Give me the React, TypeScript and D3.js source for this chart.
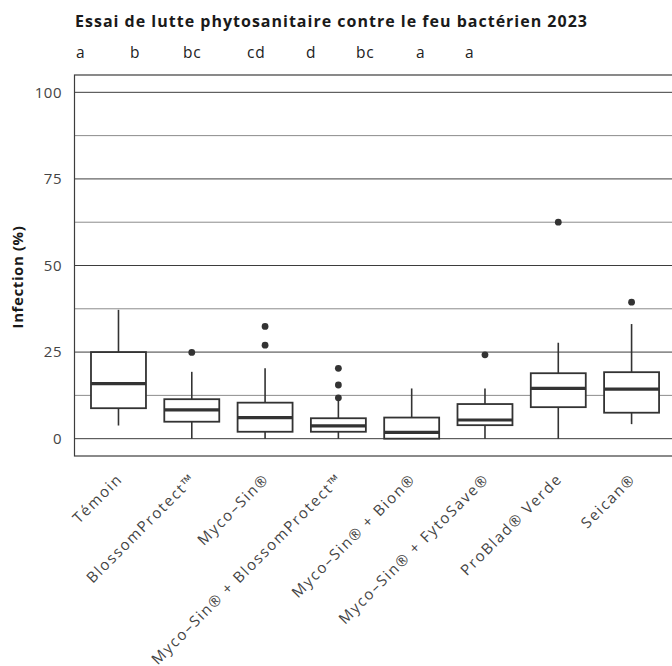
import React from "react";
import * as d3 from "d3";

const title = "Essai de lutte phytosanitaire contre le feu bactérien 2023";
const yLabel = "Infection (%)";
const categories = [
  "Témoin",
  "BlossomProtect™",
  "Myco–Sin®",
  "Myco–Sin® + BlossomProtect™",
  "Myco–Sin® + Bion®",
  "Myco–Sin® + FytoSave®",
  "ProBlad® Verde",
  "Seican®",
];
const groupLetters = ["a", "b", "bc", "cd", "d", "bc", "a", "a"];
const whiskerLow = [3.8, 0, 0, 0, 0, 0, 0, 4.2];
const q1 = [8.8, 4.9, 2.0, 2.0, 0, 3.9, 9.1, 7.5];
const median = [15.9, 8.3, 6.1, 3.7, 1.8, 5.4, 14.5, 14.3];
const q3 = [25.0, 11.4, 10.4, 5.9, 6.1, 10.0, 18.9, 19.2];
const whiskerHigh = [37.2, 19.3, 20.3, 10.9, 14.5, 14.5, 27.7, 33.1];
const outliers: number[][] = [[], [24.9], [27.0, 32.4], [11.8, 15.5, 20.3], [], [24.2], [62.5], [39.4]];
const yTicks = [0, 25, 50, 75, 100];
const yMinor = [12.5, 37.5, 62.5, 87.5];

const FONT = "'Open Sans', 'DejaVu Sans', sans-serif";
const letterX = [76, 130, 183, 247, 306, 356, 416, 465];

export default function App() {
  const W = 672, H = 666;
  const left = 74.5, top = 75, bottom = 456;
  const x = d3.scaleLinear().domain([0.4, 8.6]).range([left, left + 8.2 * 73.3]);
  const y = d3.scaleLinear().domain([-5, 105]).range([bottom, top]);
  const right = x(8.6);
  const bw = x(0.75) - x(0);
  const dark = "#333333";
  return (
    <svg width={W} height={H} style={{ position: "absolute", left: 0, top: 0 }} fontFamily={FONT}>
      <rect width={W} height={H} fill="#fff" />
      <text x={75} y={27} fontSize={16} fontWeight={700} fill="#1a1a1a" textLength={512} lengthAdjust="spacing">{title}</text>
      {groupLetters.map((l, i) => (
        <text key={i} x={letterX[i]} y={58} fontSize={15.5} fill="#222" letterSpacing={0.8}>{l}</text>
      ))}
      {yMinor.map((v) => (
        <line key={"m" + v} x1={left} x2={right} y1={y(v)} y2={y(v)} stroke="#8c8c8c" strokeWidth={1} />
      ))}
      {yTicks.map((v) => (
        <line key={"t" + v} x1={left} x2={right} y1={y(v)} y2={y(v)} stroke="#3d3d3d" strokeWidth={1} />
      ))}
      <rect x={left} y={top} width={right - left} height={bottom - top} fill="none" stroke="#3d3d3d" strokeWidth={1.2} />
      {yTicks.map((v) => (
        <text key={"l" + v} x={62} y={y(v)} dy="0.36em" textAnchor="end" fontSize={15} fill="#444" letterSpacing={0.5}>{v}</text>
      ))}
      <text transform={`translate(23,277) rotate(-90)`} textAnchor="middle" fontSize={15} fontWeight={700} fill="#1a1a1a" letterSpacing={0.6}>{yLabel}</text>
      {categories.map((c, i) => {
        const cx = x(i + 1);
        return (
          <g key={c}>
            <line x1={cx} x2={cx} y1={y(q3[i])} y2={y(whiskerHigh[i])} stroke={dark} strokeWidth={1.6} />
            <line x1={cx} x2={cx} y1={y(q1[i])} y2={y(whiskerLow[i])} stroke={dark} strokeWidth={1.6} />
            <rect x={cx - bw / 2} y={y(q3[i])} width={bw} height={y(q1[i]) - y(q3[i])} fill="#fff" stroke={dark} strokeWidth={1.8} />
            <line x1={cx - bw / 2} x2={cx + bw / 2} y1={y(median[i])} y2={y(median[i])} stroke={dark} strokeWidth={3.2} />
            {outliers[i].map((o, j) => (
              <circle key={j} cx={cx} cy={y(o)} r={3.4} fill={dark} />
            ))}
            <text transform={`translate(${cx - 3},${bottom + 16}) rotate(-45)`} textAnchor="end" dy="0.75em" fontSize={15} fill="#444" letterSpacing={1.7}>{c}</text>
          </g>
        );
      })}
    </svg>
  );
}
